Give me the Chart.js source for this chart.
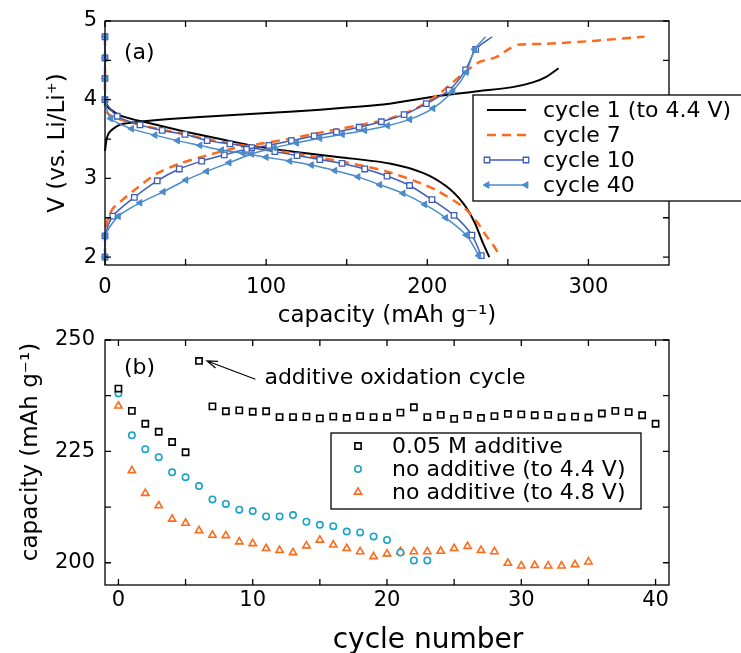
<!DOCTYPE html>
<html><head><meta charset="utf-8">
<script src="https://cdn.jsdelivr.net/npm/chart.js@4.4.1/dist/chart.umd.min.js"></script>
<style>
html,body{margin:0;padding:0;background:#fff;overflow:hidden;width:741px;height:653px;position:relative}
canvas{position:absolute;left:0;top:0}
</style></head><body>
<canvas id="chartA" width="741" height="653"></canvas>
<canvas id="chartB" width="741" height="690"></canvas>
<script>
// ================= DATA : panel (a) =================
const capTicks = [0, 100, 200, 300];
const capMinorTicks = [50, 150, 250];
const voltTicks = [2, 3, 4, 5];
const voltMinorTicks = [2.5, 3.5, 4.5];

// [capacity (mAh/g), voltage (V)]
const cycle1Charge = [[0,3.35],[1,3.5],[2.5,3.58],[5,3.63],[9,3.68],[13.4,3.70],[25.8,3.73],[40,3.755],[58.9,3.78],[90,3.82],[117,3.85],[150,3.9],[176.7,3.95],[207.7,4.05],[232.5,4.11],[253,4.16],[265.5,4.22],[273.8,4.29],[281.5,4.4]];
const cycle1Discharge = [[0,4.4],[0,4.0],[1,3.93],[3.1,3.88],[9.3,3.8],[17.5,3.75],[27.9,3.7],[48.5,3.6],[69.2,3.51],[90,3.42],[117,3.34],[145.7,3.27],[176.7,3.19],[197.3,3.07],[211.8,2.9],[222.1,2.69],[229.4,2.44],[234.5,2.18],[238.5,2.0]];
const cycle7Charge = [[0,2.0],[0,2.3],[2,2.5],[5,2.62],[9.3,2.7],[17.5,2.84],[32,3.06],[46.5,3.19],[63,3.29],[79.5,3.38],[96,3.44],[114,3.5],[135.3,3.59],[156,3.67],[176.7,3.76],[193.2,3.89],[207.7,4.08],[222.1,4.33],[232.5,4.48],[242.8,4.54],[251.1,4.65],[257.3,4.7],[273.8,4.71],[304.8,4.75],[334.8,4.8]];
const cycle7Discharge = [[0,4.8],[0,3.92],[2,3.82],[8,3.76],[20,3.69],[35,3.62],[50,3.56],[65,3.49],[80,3.44],[95,3.39],[110,3.34],[125,3.29],[140,3.24],[155,3.18],[174.6,3.09],[193.2,2.96],[205.6,2.85],[222.1,2.64],[230.4,2.46],[236.6,2.27],[241,2.15],[244,2.05]];
const cycle10Charge = [[0,2.0],[0,2.27],[4.8,2.52],[18.2,2.76],[32.4,2.97],[46.1,3.12],[60,3.22],[74,3.3],[87.8,3.37],[101.7,3.42],[115.7,3.48],[129.8,3.54],[143.6,3.59],[157.7,3.65],[171.5,3.72],[185.6,3.81],[199.4,3.95],[213.5,4.12],[223.8,4.38],[230,4.64],[240.3,4.8]];
const cycle10Discharge = [[0,4.8],[0,4.53],[0,4.27],[0,4.0],[7.6,3.79],[21.7,3.68],[35.5,3.61],[49.6,3.56],[63.4,3.48],[77.5,3.44],[91,3.39],[105.4,3.34],[119.2,3.29],[133.3,3.24],[147.1,3.19],[161.2,3.12],[175,3.03],[189,2.91],[202.9,2.73],[216.6,2.53],[227.7,2.28],[233.5,2.02]];
const cycle40Charge = [[0,2.0],[0,2.27],[8.3,2.52],[21.7,2.69],[36.1,2.83],[50.2,2.98],[63,3.09],[77,3.2],[91,3.31],[105,3.39],[118.8,3.45],[133.3,3.51],[147.3,3.56],[161.2,3.61],[175.3,3.67],[189.1,3.75],[203.5,3.89],[215.9,4.11],[224.2,4.35],[229.4,4.64],[236.2,4.8]];
const cycle40Discharge = [[0,4.8],[0,4.53],[0,4.27],[0,4.0],[3.5,3.76],[16.5,3.63],[31,3.55],[45,3.48],[58.9,3.42],[72.3,3.36],[85.7,3.32],[100,3.27],[114.7,3.22],[128.1,3.17],[142.6,3.1],[157,3.02],[170.5,2.92],[185,2.81],[198.4,2.67],[211.4,2.5],[224.2,2.28],[232,2.02]];
const legendLabelsA = ['cycle 1 (to 4.4 V)', 'cycle 7', 'cycle 10', 'cycle 40'];

// ================= DATA : panel (b) =================
const cycleTicks = [0, 10, 20, 30, 40];
const cycleMinorTicks = [5, 15, 25, 35];
const capBTicks = [200, 225, 250];
const capBMinorTicks = [212.5, 237.5];
const additive005 = [239.1,234.1,231.2,229.4,227.1,224.8,245.3,235.1,234.0,234.2,233.9,234.0,232.7,232.7,232.8,232.4,232.8,232.5,232.9,232.7,232.7,233.7,234.9,232.7,233.2,232.3,233.2,232.5,232.9,233.4,233.3,233.1,233.2,232.7,232.8,232.6,233.5,234.1,233.8,233.1,231.2];
const noAdditive44 = [238.0,228.6,225.5,223.7,220.3,219.2,217.2,214.2,213.2,211.9,211.6,210.4,210.4,210.7,209.2,208.5,208.2,207.0,206.8,205.9,205.1,202.3,200.5,200.5];
const noAdditive48 = [235.2,220.7,215.6,212.8,209.8,208.9,207.2,206.2,206.1,204.7,204.3,203.2,202.8,202.3,203.8,205.1,204.0,203.2,202.5,201.4,202.0,202.5,202.5,202.5,202.6,203.2,203.7,202.8,202.5,199.9,199.3,199.4,199.3,199.3,199.6,200.2];
const legendLabelsB = ['0.05 M additive', 'no additive (to 4.4 V)', 'no additive (to 4.8 V)'];
const annotationText = 'additive oxidation cycle';
const xTitleB = 'cycle number';
const yTitleB = 'capacity (mAh g\u207B\u00B9)';

// ================= STYLE =================
const FONT = "'DejaVu Sans', sans-serif";
Chart.defaults.font.family = FONT;
Chart.defaults.color = '#000';
const C_BLACK = '#000000', C_ORANGE = '#ff6a1a', C_C10 = '#3f5dba', C_C40 = '#4b8bcb', C_CYAN = '#1aa3c4';

const toXY = arr => arr.map(p => ({x: p[0], y: p[1]}));
const toSeries = arr => arr.map((v, i) => ({x: i, y: v}));

function curve(data, label, style, order, bareEnd) {
  const ds = Object.assign({label, data: toXY(data), showLine: true, fill: false, tension: 0.25, clip: 8, order}, style);
  if (bareEnd && style.pointRadius) {
    const r = style.pointRadius;
    ds.pointRadius = ctx => ctx.dataIndex === data.length - 1 ? 0 : r;
  }
  return ds;
}
const sBlack = {borderColor: C_BLACK, borderWidth: 2, pointRadius: 0};
const sOrange = {borderColor: C_ORANGE, borderWidth: 2.5, borderDash: [9, 6], pointRadius: 0};
const sC10 = {borderColor: C_C10, borderWidth: 1.5, pointStyle: 'rect', pointRadius: 3.9, pointBorderWidth: 1.3, pointBackgroundColor: '#fff', pointBorderColor: C_C10};
const sC40 = {borderColor: C_C40, borderWidth: 1.5, pointStyle: 'triangle', pointRotation: -90, pointRadius: 3.8, pointBorderWidth: 1, pointBackgroundColor: C_C40, pointBorderColor: C_C40};

// ---------- plugins ----------
const framePlugin = {
  id: 'frame',
  afterDatasetsDraw(chart, args, o) {
    const {ctx, chartArea: a} = chart;
    const x = chart.scales.x, y = chart.scales.y;
    ctx.save();
    ctx.strokeStyle = '#000'; ctx.lineWidth = 1.3;
    ctx.strokeRect(a.left, a.top, a.right - a.left, a.bottom - a.top);
    const L = 6;
    ctx.beginPath();
    o.xTicks.forEach(v => { const p = x.getPixelForValue(v); ctx.moveTo(p, a.bottom); ctx.lineTo(p, a.bottom - L); ctx.moveTo(p, a.top); ctx.lineTo(p, a.top + L); });
    o.yTicks.forEach(v => { const p = y.getPixelForValue(v); ctx.moveTo(a.left, p); ctx.lineTo(a.left + L, p); ctx.moveTo(a.right, p); ctx.lineTo(a.right - L, p); });
    ctx.stroke();
    ctx.fillStyle = '#000'; ctx.font = o.panelFont; ctx.textBaseline = 'middle'; ctx.textAlign = 'left';
    ctx.fillText(o.panel, a.left + o.panelDx, a.top + o.panelDy);
    if (o.xTitle) {
      ctx.font = o.xTitle.font; ctx.textAlign = 'center'; ctx.textBaseline = 'alphabetic';
      ctx.fillText(o.xTitle.text, o.xTitle.x, o.xTitle.y);
    }
    if (o.yTitle) {
      ctx.save();
      ctx.translate(o.yTitle.x, o.yTitle.y); ctx.rotate(-Math.PI / 2);
      ctx.font = o.yTitle.font; ctx.textAlign = 'center'; ctx.textBaseline = 'middle';
      ctx.fillText(o.yTitle.text, 0, 0);
      ctx.restore();
    }
    ctx.restore();
  }
};

const boxLegendPlugin = {
  id: 'boxLegend',
  afterDraw(chart, args, o) {
    const ctx = chart.ctx;
    ctx.save();
    ctx.fillStyle = '#fff';
    ctx.fillRect(o.box[0], o.box[1], o.box[2] - o.box[0], o.box[3] - o.box[1]);
    ctx.strokeStyle = '#000'; ctx.lineWidth = 1.3;
    ctx.strokeRect(o.box[0], o.box[1], o.box[2] - o.box[0], o.box[3] - o.box[1]);
    o.items.forEach((it, i) => {
      const ds = chart.data.datasets[it.ds];
      const yy = o.rowY + i * o.rowH;
      if (o.lineX) {
        ctx.beginPath();
        ctx.strokeStyle = ds.borderColor; ctx.lineWidth = ds.borderWidth;
        ctx.setLineDash(ds.borderDash || []);
        ctx.moveTo(o.lineX[0], yy); ctx.lineTo(o.lineX[1], yy); ctx.stroke();
        ctx.setLineDash([]);
      }
      const r = typeof ds.pointRadius === 'function' ? it.r : ds.pointRadius;
      if (r > 0) {
        ctx.strokeStyle = ds.pointBorderColor; ctx.fillStyle = ds.pointBackgroundColor; ctx.lineWidth = ds.pointBorderWidth;
        o.markerX.forEach(mx => Chart.helpers.drawPoint(ctx, {pointStyle: ds.pointStyle, rotation: ds.pointRotation || 0, radius: r, borderWidth: ds.pointBorderWidth}, mx, yy));
      }
      ctx.fillStyle = '#000'; ctx.font = o.font; ctx.textAlign = 'left'; ctx.textBaseline = 'middle';
      ctx.fillText(it.text, o.textX, yy + 1);
    });
    ctx.restore();
  }
};

const annotatePlugin = {
  id: 'annotate',
  afterDraw(chart, args, o) {
    if (!o.text) return;
    const {ctx} = chart; const x = chart.scales.x, y = chart.scales.y;
    const tx = x.getPixelForValue(o.tail[0]), ty = y.getPixelForValue(o.tail[1]);
    const hx = x.getPixelForValue(o.head[0]), hy = y.getPixelForValue(o.head[1]);
    ctx.save();
    ctx.strokeStyle = '#000'; ctx.lineWidth = 1.2;
    ctx.beginPath(); ctx.moveTo(tx, ty); ctx.lineTo(hx, hy);
    const ang = Math.atan2(hy - ty, hx - tx), hl = 11, ha = 0.33;
    ctx.moveTo(hx - hl * Math.cos(ang - ha), hy - hl * Math.sin(ang - ha)); ctx.lineTo(hx, hy);
    ctx.lineTo(hx - hl * Math.cos(ang + ha), hy - hl * Math.sin(ang + ha));
    ctx.stroke();
    ctx.fillStyle = '#000'; ctx.font = o.font; ctx.textAlign = 'left'; ctx.textBaseline = 'middle';
    ctx.fillText(o.text, x.getPixelForValue(o.textAt[0]), y.getPixelForValue(o.textAt[1]));
    ctx.restore();
  }
};

function fixedX(h) { return s => { s.height = h; s.paddingLeft = 0; s.paddingRight = 0; }; }
function fixedY(w) { return s => { s.width = w; s.paddingTop = 0; s.paddingBottom = 0; }; }
const setTicks = vals => s => { s.ticks = vals.map(v => ({value: v})); };

// ================= CHART (a) =================
new Chart(document.getElementById('chartA'), {
  type: 'scatter',
  data: {datasets: [
    curve(cycle1Charge, legendLabelsA[0], sBlack, 4),
    curve(cycle1Discharge, '', sBlack, 4),
    curve(cycle7Charge, legendLabelsA[1], sOrange, 3),
    curve(cycle7Discharge, '', sOrange, 3),
    curve(cycle10Charge, legendLabelsA[2], sC10, 2, true),
    curve(cycle10Discharge, '', sC10, 2),
    curve(cycle40Charge, legendLabelsA[3], sC40, 1, true),
    curve(cycle40Discharge, '', sC40, 1)
  ]},
  options: {
    responsive: false, animation: false, events: [],
    layout: {padding: {left: 0, top: 21, right: 72, bottom: 323}},
    plugins: {
      legend: {display: false}, tooltip: {enabled: false},
      frame: {xTicks: capTicks.concat(capMinorTicks), yTicks: voltTicks.concat(voltMinorTicks), panel: '(a)', panelFont: "22px " + FONT, panelDx: 19, panelDy: 32},
      boxLegend: {box: [473, 95, 745, 201], rowY: 110, rowH: 25, lineX: [487, 526], markerX: [487, 526], textX: 543, font: "22px " + FONT,
        items: [{ds: 0, text: legendLabelsA[0]}, {ds: 2, text: legendLabelsA[1]}, {ds: 4, text: legendLabelsA[2], r: 3.9}, {ds: 6, text: legendLabelsA[3], r: 3.8}]},
      annotate: {}
    },
    scales: {
      x: {type: 'linear', min: 0, max: 350, afterBuildTicks: setTicks(capTicks), afterFit: fixedX(65),
        grid: {display: false, drawTicks: false}, border: {display: false},
        ticks: {font: {size: 21}, padding: 10, color: '#000'},
        title: {display: true, text: 'capacity (mAh g\u207B\u00B9)', font: {size: 23}, padding: {top: 0, bottom: 0}, color: '#000'}},
      y: {type: 'linear', min: 1.9, max: 5, afterBuildTicks: setTicks(voltTicks), afterFit: fixedY(105),
        grid: {display: false, drawTicks: false}, border: {display: false},
        ticks: {font: {size: 21}, padding: 8, color: '#000'},
        title: {display: true, text: 'V (vs. Li/Li\u207A)', font: {size: 23}, padding: {top: 44, bottom: 0}, color: '#000'}}
    }
  },
  plugins: [framePlugin, boxLegendPlugin]
});

// ================= CHART (b) =================
const mk = (data, label, style) => Object.assign({label, data: toSeries(data), showLine: false, clip: false}, style);
new Chart(document.getElementById('chartB'), {
  type: 'scatter',
  data: {datasets: [
    mk(additive005, legendLabelsB[0], {pointStyle: 'rect', pointRadius: 4.4, pointBorderWidth: 1.6, pointBorderColor: C_BLACK, pointBackgroundColor: '#fff', borderColor: C_BLACK, borderWidth: 0}),
    mk(noAdditive44, legendLabelsB[1], {pointStyle: 'circle', pointRadius: 3.2, pointBorderWidth: 1.6, pointBorderColor: C_CYAN, pointBackgroundColor: '#fff', borderColor: C_CYAN, borderWidth: 0}),
    mk(noAdditive48, legendLabelsB[2], {pointStyle: 'triangle', pointRadius: 4.2, pointBorderWidth: 1.6, pointBorderColor: C_ORANGE, pointBackgroundColor: '#fff', borderColor: C_ORANGE, borderWidth: 0})
  ]},
  options: {
    responsive: false, animation: false, events: [],
    layout: {padding: {left: 0, top: 340, right: 72, bottom: 0}},
    plugins: {
      legend: {display: false}, tooltip: {enabled: false},
      frame: {xTicks: cycleTicks.concat(cycleMinorTicks), yTicks: capBTicks.concat(capBMinorTicks), panel: '(b)', panelFont: "22px " + FONT, panelDx: 19, panelDy: 28,
        xTitle: {text: xTitleB, x: 428, y: 648, font: "28px " + FONT},
        yTitle: {text: yTitleB, x: 31, y: 452, font: "23px " + FONT}},
      boxLegend: {box: [331, 433, 641, 509], rowY: 446, rowH: 23, lineX: null, markerX: [358], textX: 392, font: "22px " + FONT,
        items: [{ds: 0, text: legendLabelsB[0]}, {ds: 1, text: legendLabelsB[1]}, {ds: 2, text: legendLabelsB[2]}]},
      annotate: {text: annotationText, tail: [10.2, 241.2], head: [6.6, 245.3], textAt: [10.87, 241.4], font: "22px " + FONT}
    },
    scales: {
      x: {type: 'linear', min: -1, max: 41, afterBuildTicks: setTicks(cycleTicks), afterFit: fixedX(105),
        grid: {display: false, drawTicks: false}, border: {display: false},
        ticks: {font: {size: 21}, padding: 3, color: '#000'},
        title: {display: false}},
      y: {type: 'linear', min: 195, max: 250, afterBuildTicks: setTicks(capBTicks), afterFit: fixedY(105),
        grid: {display: false, drawTicks: false}, border: {display: false},
        ticks: {font: {size: 21}, padding: 10, color: '#000'},
        title: {display: false}}
    }
  },
  plugins: [framePlugin, boxLegendPlugin, annotatePlugin]
});
</script></body></html>
